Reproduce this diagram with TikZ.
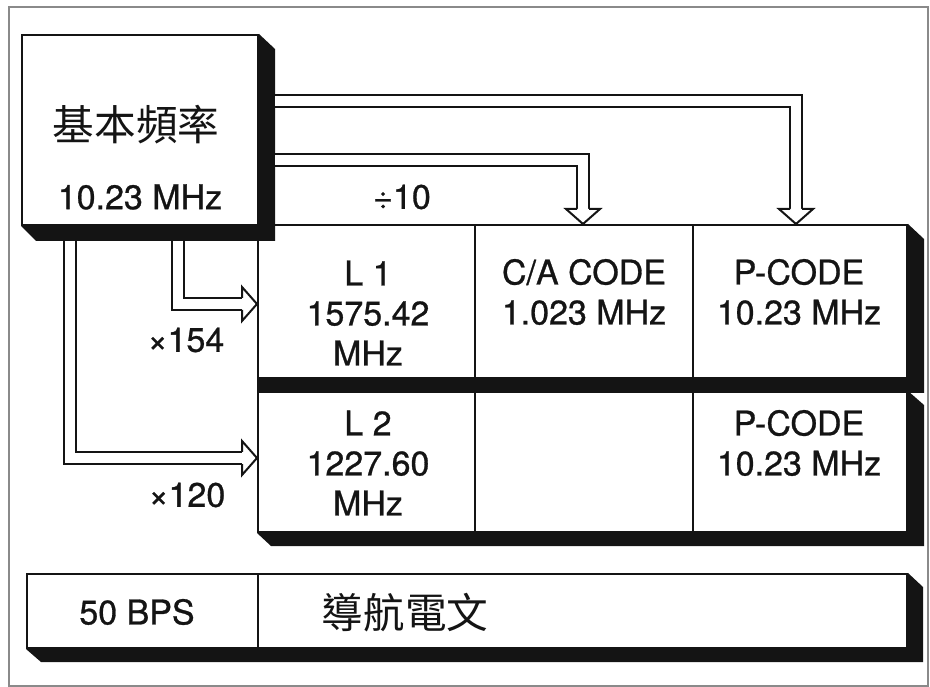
\documentclass[tikz,border=0pt]{standalone}
\usepackage{fontspec}
\setmainfont[FakeBold=0.8,AutoFakeBold=0.8]{TeX Gyre Heros}
\newfontfamily\cjk{Noto Sans CJK TC}
\usepackage{tikz}
\usetikzlibrary{calc,fit}
\definecolor{ink}{HTML}{141414}
\definecolor{rule}{HTML}{8A8A8A}
\tikzset{
  cell/.style={draw=ink,line width=0.6pt,fill=white,inner sep=0pt},
  shaft/.style={draw=ink,line width=0.6pt,double=white,double distance=3pt},
  txt/.style={align=center,text=ink,inner sep=0pt,font=\fontsize{10.2pt}{12pt}\selectfont\bfseries},
  cjktxt/.style={align=center,text=ink,inner sep=0pt,font=\fontsize{12.5pt}{14pt}\cjk},
  hollowhead/.pic={\filldraw[fill=white,draw=ink,line width=0.6pt] (-6,0) -- (-17,0) -- (0,15) -- (17,0) -- (6,0);}
}

\begin{document}
\begin{tikzpicture}[x=0.3pt,y=-0.3pt]
  \useasboundingbox (0,0) rectangle (930,687);
  \draw[rule,line width=0.5pt] (9,7) rectangle (928,686);

  % boxes
  \node[cell,fit={(22,35) (258,225)}] (base) {};
  \node[cell,fit={(258,225) (475,378)}] (l1) {};
  \node[cell,fit={(475,225) (693,378)}] (ca) {};
  \node[cell,fit={(693,225) (907,378)}] (pc1) {};
  \node[cell,fit={(258,392) (475,532)}] (l2) {};
  \node[cell,fit={(475,392) (693,532)}] (gap) {};
  \node[cell,fit={(693,392) (907,532)}] (pc2) {};
  \node[cell,fit={(27,574) (258,648)}] (bps) {};
  \node[cell,fit={(258,574) (907,648)}] (msg) {};

  % shadows
  \fill[ink] (base.north east) -- ++(16,15) |- ($(base.south west)+(15,15)$) -- (base.south west) -- (base.south east) -- cycle;
  \fill[ink] (pc1.north east) -- ++(16,15) |- ($(l1.south west)+(0,14)$) -- (l1.south west) -- (pc1.south east) -- cycle;
  \fill[ink] (pc2.north east) -- ++(16,14) |- ($(l2.south west)+(14,13)$) -- (l2.south west) -- (pc2.south east) -- cycle;
  \fill[ink] (msg.north east) -- ++(15,14) |- ($(bps.south west)+(15,13)$) -- (bps.south west) -- (msg.south east) -- cycle;

  % hollow arrows
  \draw[shaft] ($(base.east)+(16,-28.5)$) -| ($(pc1.north)+(-4,-15)$);
  \pic at ($(pc1.north)+(-4,-15)$) {hollowhead};
  \draw[shaft] ($(base.east)+(16,30.5)$) -| ($(ca.north)+(-1,-15)$);
  \pic at ($(ca.north)+(-1,-15)$) {hollowhead};
  \draw[shaft] ($(base.south west)+(157,15)$) |- ($(l1.west)+(-15,2.5)$);
  \pic[rotate=90] at ($(l1.west)+(-15,2.5)$) {hollowhead};
  \draw[shaft] ($(base.south west)+(49,15)$) |- ($(l2.west)+(-15,-4)$);
  \pic[rotate=90] at ($(l2.west)+(-15,-4)$) {hollowhead};

  % labels
  \node[cjktxt] (basecn) at (136,125) {基本頻率};
  \node[txt] (basefreq) at (140,197) {10.23 MHz};
  \node[txt] (div) at (402,197) {÷10};
  \node[txt] (mul1) at (186,340) {×154};
  \node[txt] (mul2) at (187,495) {×120};
  \node[txt] (l1t) at (368,313) {L 1\\1575.42\\MHz};
  \node[txt] (cat) at (584,292) {C/A CODE\\1.023 MHz};
  \node[txt] (pc1t) at (799,292) {P-CODE\\10.23 MHz};
  \node[txt] (l2t) at (368,463) {L 2\\1227.60\\MHz};
  \node[txt] (pc2t) at (799,443) {P-CODE\\10.23 MHz};
  \node[txt] (bpst) at (137,612) {50 BPS};
  \node[cjktxt] (msgt) at (405,613) {導航電文};
\end{tikzpicture}
\end{document}
